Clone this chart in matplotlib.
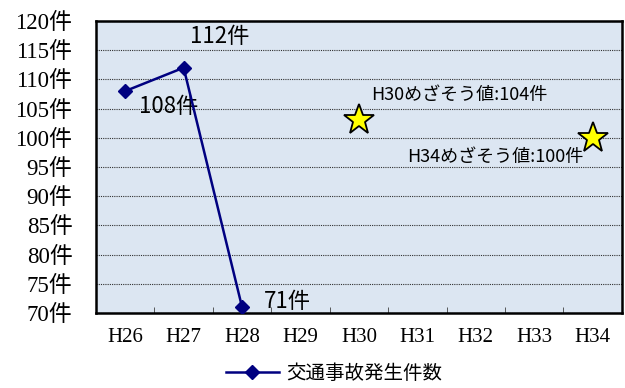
import numpy as np
import matplotlib.pyplot as plt

plt.rcParams['font.family'] = ['Liberation Serif', 'Noto Sans CJK JP']

# data
years = ['H26', 'H27', 'H28', 'H29', 'H30', 'H31', 'H32', 'H33', 'H34']
accidents = [108, 112, 71]
accident_labels = ['108件', '112件', '71件']
target_idx = [4, 8]
target_vals = [103, 100]
target_labels = ['H30めざそう値:104件', 'H34めざそう値:100件']
yticks = np.arange(70, 121, 5)

jp = ['Noto Sans CJK JP', 'DejaVu Sans']

fig = plt.figure(figsize=(6.25, 3.88), dpi=100)
ax = fig.add_axes([0.1536, 0.1933, 0.8414, 0.7526])
ax.set_facecolor('#DCE6F2')

x = np.arange(len(years))
ax.plot(x[:len(accidents)], accidents, color='#000080', lw=1.8, marker='D',
        ms=7.5, zorder=4, label='交通事故発生件数')
ax.plot(np.array(target_idx), target_vals, ls='none', marker='*', ms=23,
        mfc='#FFFF00', mec='black', mew=1.3, zorder=5)

# data labels
ax.text(x[1] + 0.62, accidents[1] + 5.3, accident_labels[1], family=jp,
        fontsize=16, ha='center', va='center')
ax.text(x[0] + 0.75, accidents[0] - 2.6, accident_labels[0], family=jp,
        fontsize=16, ha='center', va='center')
ax.text(x[2] + 0.78, accidents[2] + 1.05, accident_labels[2], family=jp,
        fontsize=16, ha='center', va='center')
ax.text(x[target_idx[0]] + 1.72, target_vals[0] + 4.3, target_labels[0],
        family=jp, fontsize=13, ha='center', va='center')
ax.text(x[target_idx[1]] - 1.66, target_vals[1] - 3.3, target_labels[1],
        family=jp, fontsize=13, ha='center', va='center')

ax.set_xlim(-0.5, len(years) - 0.5)
ax.set_ylim(70, 120)
ax.set_yticks(yticks)
ax.set_yticklabels([f'{v}件' for v in yticks], fontsize=16.5)
ax.yaxis.grid(True, color='#303030', ls=(0, (1, 1)), lw=0.8)
ax.tick_params(axis='y', length=0, pad=17)

ax.set_xticks(x)
ax.set_xticklabels(years, fontsize=15)
ax.set_xticks(np.arange(0.5, len(years) - 0.5), minor=True)
ax.tick_params(axis='x', which='major', length=0, pad=11)
ax.tick_params(axis='x', which='minor', direction='in', length=4, color='#404040')

for s in ax.spines.values():
    s.set_linewidth(1.8)

fig.legend(loc='lower center', bbox_to_anchor=(0.535, -0.035), frameon=False,
           prop={'family': jp, 'size': 14}, handlelength=2.7, handletextpad=0.4)

fig.savefig('out.png', dpi=100)
